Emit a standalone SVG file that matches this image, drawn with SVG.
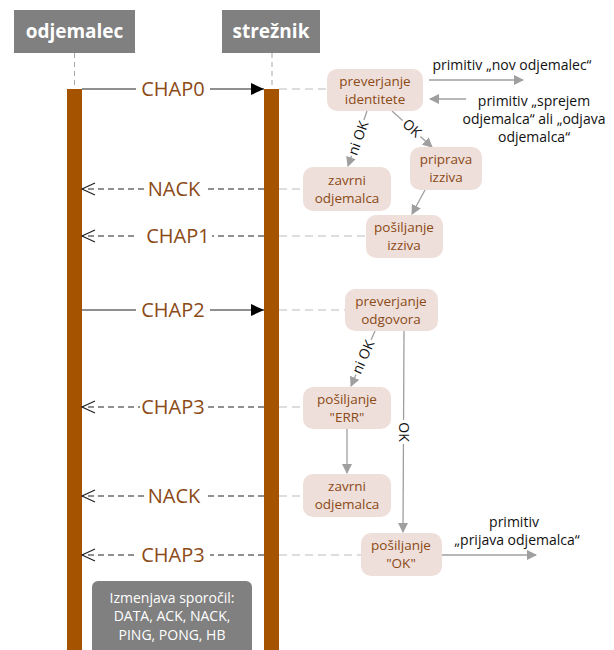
<svg xmlns="http://www.w3.org/2000/svg" width="614" height="650" viewBox="0 0 614 650">
<style>
.hdr{fill:#808080}
.hdrt{font-family:"Open Sans","Noto Sans",sans-serif;font-weight:bold;font-size:19px;fill:#fff;text-anchor:middle}
.life{stroke:#a6a6a6;stroke-width:1;stroke-dasharray:5,4;fill:none}
.bar{fill:#A65300}
.msg{stroke:#222;stroke-width:1.2;fill:none}
.ret{stroke:#222;stroke-width:1.2;fill:none;stroke-dasharray:6,4}
.lbl{font-family:"Open Sans","Noto Sans",sans-serif;font-size:20px;fill:#8B4A16;text-anchor:middle}
.tie{stroke:#bbb;stroke-width:1.2;stroke-dasharray:8,5;fill:none}
.node rect{fill:#EEDFDA}
.nt{font-family:"Open Sans","Noto Sans",sans-serif;font-size:13.5px;fill:#8B4A16;text-anchor:middle}
.con{stroke:#9f9f9f;stroke-width:1.3;fill:none}
.cl{font-family:"Open Sans","Noto Sans",sans-serif;font-size:14px;fill:#111;text-anchor:middle}
.prim{font-family:"Open Sans","Noto Sans",sans-serif;font-size:14px;fill:#111;text-anchor:middle}
.note{font-family:"Open Sans","Noto Sans",sans-serif;font-size:14px;fill:#fff;text-anchor:middle}
</style>
<defs>
<marker id="ah" markerWidth="10" markerHeight="10" refX="9" refY="5" orient="auto" markerUnits="userSpaceOnUse"><path d="M0,0 L10,5 L0,10 Z" fill="#9f9f9f"/></marker>
<marker id="bh" markerWidth="14" markerHeight="14" refX="13" refY="6" orient="auto" markerUnits="userSpaceOnUse"><path d="M0,0 L13,6 L0,12 Z" fill="#000"/></marker>
<marker id="oh" markerWidth="16" markerHeight="14" refX="14" refY="7" orient="auto" markerUnits="userSpaceOnUse"><path d="M1,1 L14,7 L1,13" fill="none" stroke="#222" stroke-width="1.2"/></marker>
</defs>
<rect width="614" height="650" fill="#fff"/>

<g id="odjemalec">
<rect class="hdr" x="14" y="10" width="121" height="43"/>
<text class="hdrt" x="74.5" y="38">odjemalec</text>
<line class="life" x1="74.5" y1="53" x2="74.5" y2="89"/>
<rect class="bar" x="67" y="89" width="15" height="561"/>
</g>
<g id="streznik">
<rect class="hdr" x="222" y="10" width="98" height="43"/>
<text class="hdrt" x="271" y="38">strežnik</text>
<line class="life" x1="272" y1="53" x2="272" y2="89"/>
<rect class="bar" x="264" y="89" width="15" height="561"/>
</g>

<g id="connectors">
<line class="msg" x1="82" y1="89" x2="264" y2="89" marker-end="url(#bh)"/>
<line class="ret" x1="264" y1="189" x2="82" y2="189" marker-end="url(#oh)"/>
<line class="ret" x1="264" y1="236" x2="82" y2="236" marker-end="url(#oh)"/>
<line class="msg" x1="82" y1="310" x2="264" y2="310" marker-end="url(#bh)"/>
<line class="ret" x1="264" y1="407" x2="82" y2="407" marker-end="url(#oh)"/>
<line class="ret" x1="264" y1="496" x2="82" y2="496" marker-end="url(#oh)"/>
<line class="ret" x1="264" y1="555" x2="82" y2="555" marker-end="url(#oh)"/>
<rect x="136" y="78" width="74" height="22" fill="#fff"/><text class="lbl" x="173" y="96">CHAP0</text>
<rect x="144" y="178" width="60" height="22" fill="#fff"/><text class="lbl" x="174" y="196">NACK</text>
<rect x="136" y="225" width="76" height="22" fill="#fff"/><text class="lbl" x="178" y="243">CHAP1</text>
<rect x="136" y="299" width="74" height="22" fill="#fff"/><text class="lbl" x="173" y="317">CHAP2</text>
<rect x="140" y="396" width="66" height="22" fill="#fff"/><text class="lbl" x="173" y="414">CHAP3</text>
<rect x="144" y="485" width="60" height="22" fill="#fff"/><text class="lbl" x="174" y="503">NACK</text>
<rect x="136" y="544" width="74" height="22" fill="#fff"/><text class="lbl" x="173" y="562">CHAP3</text>
<line class="tie" x1="279" y1="89" x2="327" y2="89"/>
<line class="tie" x1="279" y1="189" x2="303" y2="189"/>
<line class="tie" x1="279" y1="236" x2="366" y2="236"/>
<line class="tie" x1="279" y1="310" x2="345" y2="310"/>
<line class="tie" x1="279" y1="407" x2="303" y2="407"/>
<line class="tie" x1="279" y1="496" x2="303" y2="496"/>
<line class="tie" x1="279" y1="555" x2="361" y2="555"/>
<line class="con" x1="367" y1="111" x2="348" y2="166" marker-end="url(#ah)"/>
<line class="con" x1="392" y1="111" x2="432" y2="147" marker-end="url(#ah)"/>
<line class="con" x1="425" y1="190" x2="412" y2="214" marker-end="url(#ah)"/>
<line class="con" x1="375" y1="331" x2="351" y2="386" marker-end="url(#ah)"/>
<line class="con" x1="404" y1="331" x2="403" y2="532" marker-end="url(#ah)"/>
<line class="con" x1="347" y1="429" x2="347" y2="473" marker-end="url(#ah)"/>
<line class="con" x1="429" y1="80" x2="523" y2="80" marker-end="url(#ah)"/>
<line class="con" x1="466" y1="99" x2="430" y2="99" marker-end="url(#ah)"/>
<line class="con" x1="442" y1="555" x2="536" y2="555" marker-end="url(#ah)"/>
<g transform="translate(358,138) rotate(-70)"><rect x="-19" y="-9" width="38" height="17" fill="#fff"/><text class="cl" x="0" y="5">ni OK</text></g>
<g transform="translate(412,128) rotate(42)"><rect x="-12" y="-9" width="24" height="17" fill="#fff"/><text class="cl" x="0" y="5">OK</text></g>
<g transform="translate(363,357) rotate(-66)"><rect x="-19" y="-9" width="38" height="17" fill="#fff"/><text class="cl" x="0" y="5">ni OK</text></g>
<g transform="translate(404,432) rotate(90)"><rect x="-12" y="-9" width="24" height="17" fill="#fff"/><text class="cl" x="0" y="5">OK</text></g>
<text class="prim" x="512" y="70">primitiv „nov odjemalec“</text>
<text class="prim" x="534" y="106">primitiv „sprejem</text>
<text class="prim" x="534" y="124">odjemalca“ ali „odjava</text>
<text class="prim" x="534" y="142">odjemalca“</text>
<text class="prim" x="514" y="527">primitiv</text>
<text class="prim" x="517" y="545">„prijava odjemalca“</text>
</g>

<g id="n_prev_id" class="node"><rect x="327" y="69" width="96" height="42" rx="10"/><text class="nt" x="375" y="86">preverjanje</text><text class="nt" x="375" y="104">identitete</text></g>
<g id="n_zavrni1" class="node"><rect x="303" y="167" width="88" height="44" rx="10"/><text class="nt" x="347" y="185">zavrni</text><text class="nt" x="347" y="203">odjemalca</text></g>
<g id="n_priprava" class="node"><rect x="410" y="147" width="72" height="43" rx="10"/><text class="nt" x="446" y="164">priprava</text><text class="nt" x="446" y="182">izziva</text></g>
<g id="n_poslji_izziv" class="node"><rect x="366" y="215" width="77" height="43" rx="10"/><text class="nt" x="404" y="232">pošiljanje</text><text class="nt" x="404" y="250">izziva</text></g>
<g id="n_prev_odg" class="node"><rect x="345" y="289" width="93" height="42" rx="10"/><text class="nt" x="391" y="306">preverjanje</text><text class="nt" x="391" y="324">odgovora</text></g>
<g id="n_err" class="node"><rect x="303" y="387" width="88" height="42" rx="10"/><text class="nt" x="347" y="404">pošiljanje</text><text class="nt" x="347" y="422">"ERR"</text></g>
<g id="n_zavrni2" class="node"><rect x="303" y="474" width="88" height="43" rx="10"/><text class="nt" x="347" y="491">zavrni</text><text class="nt" x="347" y="509">odjemalca</text></g>
<g id="n_ok" class="node"><rect x="361" y="533" width="81" height="43" rx="10"/><text class="nt" x="401" y="550">pošiljanje</text><text class="nt" x="401" y="568">"OK"</text></g>

<g id="note">
<rect x="92" y="581" width="160" height="80" rx="6" fill="#808080"/>
<text class="note" x="172" y="603">Izmenjava sporočil:</text>
<text class="note" x="172" y="621">DATA, ACK, NACK,</text>
<text class="note" x="172" y="640">PING, PONG, HB</text>
</g>
</svg>
